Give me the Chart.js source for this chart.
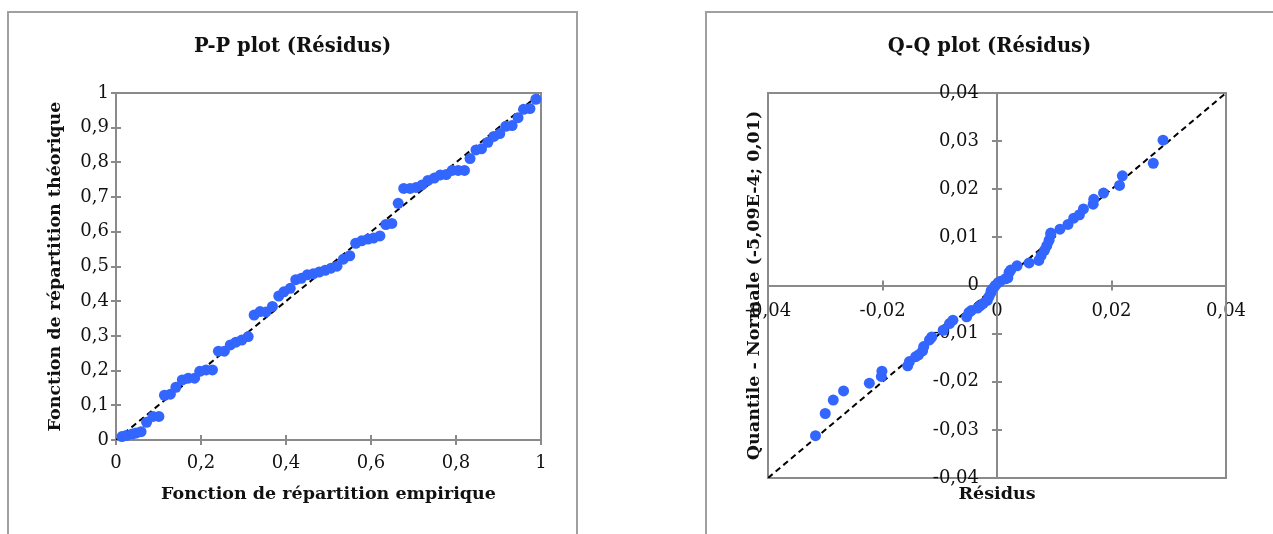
<!DOCTYPE html>
<html>
<head>
<meta charset="utf-8">
<script src="https://cdn.jsdelivr.net/npm/chart.js@4"></script>
<style>
  body { margin: 0; background: #fff; width: 1273px; height: 534px; overflow: hidden; position: relative; }
  .box { position: absolute; top: 11px; height: 540px; border: 2px solid #a0a0a0; box-sizing: border-box; }
  canvas { position: absolute; top: 12px; }
</style>
</head>
<body>
<div class="box" style="left:7px; width:571px;"></div>
<div class="box" style="left:705px; width:600px;"></div>
<canvas id="pp" width="569" height="522" style="left:8px"></canvas>
<canvas id="qq" width="567" height="522" style="left:706px"></canvas>
<script>
const serif  = "DejaVu Serif";
const blue   = "#3366ff";
const axis   = "#8a8a8a";
const ink    = "#111";

// P-P : empirical vs theoretical CDF of the residuals
const ppX = [0.014,0.024,0.038,0.047,0.059,0.072,0.087,0.101,0.114,0.128,0.141,0.156,0.170,0.185,0.197,0.212,0.227,0.241,0.255,0.269,0.282,0.296,0.311,0.325,0.339,0.353,0.368,0.383,0.395,0.410,0.423,0.436,0.450,0.464,0.478,0.492,0.506,0.520,0.535,0.550,0.564,0.578,0.593,0.606,0.621,0.635,0.649,0.664,0.677,0.692,0.706,0.720,0.734,0.749,0.763,0.777,0.791,0.805,0.820,0.833,0.847,0.860,0.875,0.889,0.903,0.917,0.932,0.946,0.959,0.974,0.988];
const ppY = [0.010,0.013,0.017,0.020,0.024,0.051,0.068,0.068,0.129,0.132,0.152,0.173,0.178,0.178,0.198,0.202,0.202,0.256,0.256,0.274,0.282,0.288,0.298,0.360,0.370,0.369,0.385,0.415,0.427,0.437,0.462,0.466,0.476,0.479,0.484,0.489,0.495,0.501,0.521,0.531,0.567,0.574,0.579,0.582,0.588,0.621,0.624,0.682,0.725,0.725,0.728,0.735,0.748,0.755,0.764,0.765,0.777,0.777,0.777,0.811,0.836,0.839,0.858,0.875,0.883,0.904,0.906,0.929,0.953,0.955,0.982];
const ppRef    = [0, 1];
const ppXTicks = ["0","0,2","0,4","0,6","0,8","1"];
const ppYTicks = ["0","0,1","0,2","0,3","0,4","0,5","0,6","0,7","0,8","0,9","1"];

// Q-Q : residuals vs normal quantiles
const qqX = [-0.0317,-0.0300,-0.0286,-0.0268,-0.0223,-0.0202,-0.0201,-0.0156,-0.0153,-0.0142,-0.0137,-0.0130,-0.0128,-0.0118,-0.0114,-0.0094,-0.0083,-0.0077,-0.0053,-0.0049,-0.0045,-0.0034,-0.0029,-0.0024,-0.0017,-0.0014,-0.0011,-0.0010,-0.0006,-0.0003,0.0002,0.0006,0.0015,0.0019,0.0021,0.0024,0.0035,0.0056,0.0073,0.0077,0.0083,0.0087,0.0091,0.0094,0.0094,0.0110,0.0124,0.0134,0.0144,0.0151,0.0168,0.0169,0.0186,0.0214,0.0219,0.0273,0.0290];
const qqY = [-0.0312,-0.0266,-0.0238,-0.0219,-0.0203,-0.0189,-0.0178,-0.0167,-0.0158,-0.0148,-0.0144,-0.0136,-0.0127,-0.0113,-0.0107,-0.0093,-0.0079,-0.0072,-0.0065,-0.0056,-0.0052,-0.0047,-0.0042,-0.0037,-0.0031,-0.0023,-0.0016,-0.0010,-0.0005,0.0000,0.0006,0.0009,0.0014,0.0016,0.0027,0.0032,0.0041,0.0047,0.0052,0.0062,0.0073,0.0083,0.0094,0.0106,0.0109,0.0117,0.0127,0.0140,0.0147,0.0159,0.0169,0.0179,0.0192,0.0208,0.0228,0.0254,0.0302];
const qqRef    = [-0.04, 0.04];
const qqXTicks = ["-0,04","-0,02","0","0,02","0,04"];
const qqYTicks = ["-0,04","-0,03","-0,02","-0,01","0","0,01","0,02","0,03","0,04"];

const tickFont  = { family: serif, size: 18 };
const titleFont = { family: serif, size: 17.5, weight: "bold" };

// grey frame round the plot area
const plotFrame = {
  id: "plotFrame",
  beforeDatasetsDraw(chart) {
    const { ctx, chartArea: a } = chart;
    ctx.save();
    ctx.strokeStyle = axis;
    ctx.lineWidth = 2;
    ctx.strokeRect(a.left, a.top, a.right - a.left, a.bottom - a.top);
    ctx.restore();
  }
};

// tick marks crossing the axis line on both sides;
// optional y labels set off from a floating y axis
const crossTicks = {
  id: "crossTicks",
  beforeDatasetsDraw(chart, args, opts) {
    const { ctx } = chart;
    const len = 5;
    const lineAt = (s, other) => {
      const p = s.options.position;
      if (typeof p === "object") return chart.scales[other].getPixelForValue(Object.values(p)[0]);
      return s.isHorizontal() ? s.top : s.right;
    };
    const sx = chart.scales.x, sy = chart.scales.y;
    const yLine = lineAt(sx, "y");
    const xLine = lineAt(sy, "x");
    ctx.save();
    ctx.strokeStyle = axis;
    ctx.lineWidth = 2;
    ctx.beginPath();
    sx.ticks.forEach((t, i) => {
      const px = Math.round(sx.getPixelForTick(i));
      ctx.moveTo(px, yLine - len); ctx.lineTo(px, yLine + len);
    });
    sy.ticks.forEach((t, i) => {
      const py = Math.round(sy.getPixelForTick(i));
      ctx.moveTo(xLine - len, py); ctx.lineTo(xLine + len, py);
    });
    ctx.stroke();
    if (opts.yLabels) {
      ctx.fillStyle = ink;
      ctx.font = tickFont.size + "px '" + serif + "'";
      ctx.textAlign = "right";
      ctx.textBaseline = "middle";
      sy.ticks.forEach((t, i) => ctx.fillText(opts.yLabels[i], xLine - opts.gap, sy.getPixelForTick(i)));
    }
    ctx.restore();
  }
};

function pts(xs, ys) { return xs.map((x, i) => ({ x, y: ys[i] })); }

function datasets(xs, ys, ref) {
  return [
    { data: pts(xs, ys), backgroundColor: blue, borderWidth: 0, pointRadius: 5.5, pointHoverRadius: 5.5, clip: false },
    { data: pts(ref, ref), showLine: true, borderColor: "#000", borderWidth: 2, borderDash: [6, 4], pointRadius: 0, fill: false }
  ];
}

// empty axis that only reserves room on the right of the plot
function rightGap(w) {
  return { type: "linear", position: "right", afterFit: s => { s.width = w; },
           grid: { display: false, drawTicks: false }, border: { display: false }, ticks: { display: false } };
}

function common(title) {
  return {
    responsive: false,
    animation: false,
    devicePixelRatio: 1,
    events: [],
    layout: { padding: 0 },
    plugins: {
      legend: { display: false },
      tooltip: { enabled: false },
      title: { display: true, text: title, color: ink,
               font: { family: serif, size: 19.5, weight: "bold" },
               padding: { top: 23, bottom: 34.6 } }
    }
  };
}

// P-P plot
const ppOpts = common("P-P plot (Résidus)");
ppOpts.scales = {
  x: {
    type: "linear", position: "bottom", min: 0, max: 1,
    afterFit: s => { s.height = 94; },
    grid: { display: false, drawTicks: false },
    border: { display: false },
    ticks: { stepSize: 0.2, autoSkip: false, maxRotation: 0, padding: 13, color: ink, font: tickFont,
             callback: (v, i) => ppXTicks[i] },
    title: { display: true, text: "Fonction de répartition empirique", color: ink, font: titleFont,
             padding: { top: 0, bottom: 29 } }
  },
  y: {
    type: "linear", position: "left", min: 0, max: 1,
    afterFit: s => { s.width = 108; },
    grid: { display: false, drawTicks: false },
    border: { display: false },
    ticks: { stepSize: 0.1, autoSkip: false, padding: 7, color: ink, font: tickFont,
             callback: (v, i) => ppYTicks[i] },
    title: { display: true, text: "Fonction de répartition théorique", color: ink, font: titleFont,
             padding: { top: 37, bottom: 0 } }
  },
  gap: rightGap(36)
};
new Chart(document.getElementById("pp"), {
  type: "scatter",
  data: { datasets: datasets(ppX, ppY, ppRef) },
  options: ppOpts,
  plugins: [plotFrame, crossTicks]
});

// Q-Q plot, axes crossing at zero
const qqOpts = common("Q-Q plot (Résidus)");
qqOpts.plugins.crossTicks = { yLabels: qqYTicks, gap: 18 };
qqOpts.scales = {
  x: {
    type: "linear", position: { y: 0 }, min: -0.04, max: 0.04,
    grid: { display: false, drawTicks: false },
    border: { display: true, color: axis, width: 2 },
    ticks: { stepSize: 0.02, autoSkip: false, maxRotation: 0, padding: 15, color: ink, font: tickFont,
             callback: (v, i) => qqXTicks[i] }
  },
  y: {
    type: "linear", position: { x: 0 }, min: -0.04, max: 0.04,
    grid: { display: false, drawTicks: false },
    border: { display: true, color: axis, width: 2 },
    ticks: { stepSize: 0.01, autoSkip: false, display: false }
  },
  // outer axes only carry the axis titles
  xTitle: {
    type: "linear", position: "bottom", afterFit: s => { s.height = 56; },
    grid: { display: false, drawTicks: false }, border: { display: false }, ticks: { display: false },
    title: { display: true, text: "Résidus", color: ink, font: titleFont, padding: { top: 0, bottom: 29 } }
  },
  yTitle: {
    type: "linear", position: "left", afterFit: s => { s.width = 62; },
    grid: { display: false, drawTicks: false }, border: { display: false }, ticks: { display: false },
    title: { display: true, text: "Quantile - Normale (-5,09E-4; 0,01)", color: ink, font: titleFont,
             padding: { top: 38, bottom: 0 } }
  },
  gap: rightGap(47)
};
new Chart(document.getElementById("qq"), {
  type: "scatter",
  data: { datasets: datasets(qqX, qqY, qqRef) },
  options: qqOpts,
  plugins: [plotFrame, crossTicks]
});
</script>
</body>
</html>
